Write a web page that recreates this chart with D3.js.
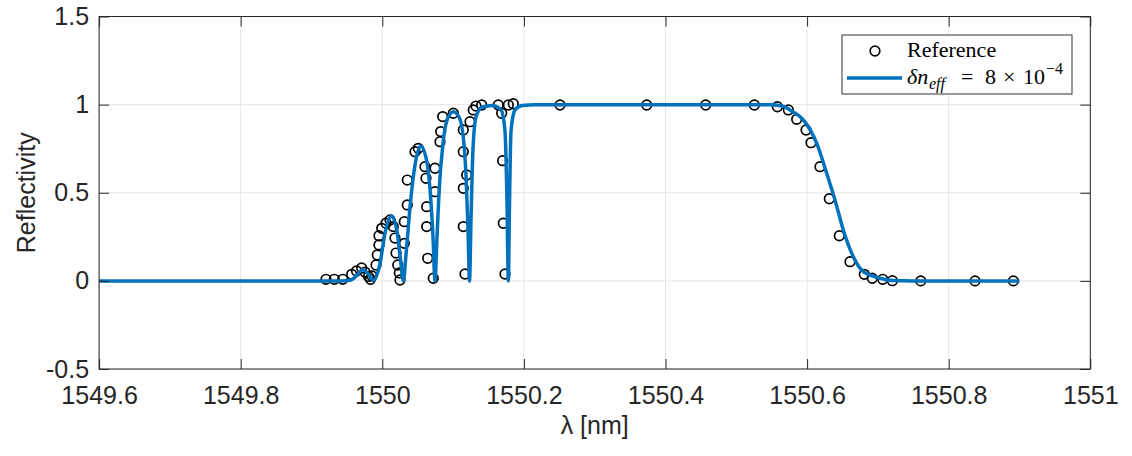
<!DOCTYPE html>
<html>
<head>
<meta charset="utf-8">
<script src="https://cdn.jsdelivr.net/npm/d3@7"></script>
<style>
  html, body { margin: 0; padding: 0; background: #fff; }
  svg { display: block; }
</style>
</head>
<body>
<svg id="chart" width="1132" height="456"></svg>
<script>
// ---------------- data ----------------
const refX = [
  1549.9205, 1549.9322, 1549.9441, 1549.9568, 1549.9636, 1549.9709, 1549.9756, 1549.9805, 1549.9833, 1549.9855,
  1549.9911, 1549.9929, 1549.9953, 1549.9953, 1549.9992, 1550.0052, 1550.0109, 1550.0155, 1550.0179, 1550.0194,
  1550.0218, 1550.0240, 1550.0250, 1550.0311, 1550.0311, 1550.0353, 1550.0353, 1550.0462, 1550.0508, 1550.0603,
  1550.0617, 1550.0627, 1550.0627, 1550.0641, 1550.0720, 1550.0744, 1550.0744, 1550.0815, 1550.0825, 1550.0853,
  1550.1003, 1550.1144, 1550.1144, 1550.1192, 1550.1144, 1550.1144, 1550.1168, 1550.1239, 1550.1285, 1550.1323,
  1550.1404, 1550.1638, 1550.1686, 1550.1700, 1550.1709, 1550.1733, 1550.1780, 1550.1850,
  1550.2510, 1550.3735, 1550.4568, 1550.5255,
  1550.5580, 1550.5735, 1550.5853, 1550.5985, 1550.6055, 1550.6182, 1550.6314, 1550.6455, 1550.6606, 1550.6808,
  1550.6920, 1550.7068, 1550.7204, 1550.7605, 1550.8372, 1550.8913
];
const refY = [
  0.009, 0.009, 0.009, 0.037, 0.056, 0.073, 0.050, 0.025, 0.009, 0.028,
  0.090, 0.147, 0.204, 0.256, 0.298, 0.327, 0.346, 0.308, 0.243, 0.158,
  0.090, 0.045, 0.005, 0.213, 0.336, 0.431, 0.572, 0.733, 0.752, 0.648,
  0.582, 0.421, 0.308, 0.128, 0.015, 0.506, 0.639, 0.790, 0.847, 0.932,
  0.951, 0.856, 0.733, 0.601, 0.525, 0.308, 0.039, 0.903, 0.970, 0.992,
  0.998, 0.998, 0.951, 0.682, 0.327, 0.039, 0.998, 1.005,
  0.998, 0.998, 0.998, 0.998,
  0.988, 0.970, 0.917, 0.856, 0.784, 0.648, 0.466, 0.256, 0.109, 0.037,
  0.015, 0.009, 0.001, 0.000, 0.000, 0.000
];

const fitX = [
  1549.6000, 1549.9400, 1549.9550, 1549.9650, 1549.9727, 1549.9800, 1549.9870, 1549.9968, 1550.0038, 1550.0133,
  1550.0208, 1550.0257, 1550.0297, 1550.0335, 1550.0392, 1550.0448, 1550.0542, 1550.0617, 1550.0674, 1550.0716,
  1550.0744, 1550.0773, 1550.0801, 1550.0857, 1550.0913, 1550.1003, 1550.1083, 1550.1140, 1550.1182, 1550.1210,
  1550.1232, 1550.1253, 1550.1281, 1550.1324, 1550.1408, 1550.1550, 1550.1677, 1550.1733, 1550.1761, 1550.1780,
  1550.1797, 1550.1818, 1550.1875, 1550.1974, 1550.2157, 1550.5500, 1550.5670, 1550.5758, 1550.5947, 1550.6136,
  1550.6277, 1550.6394, 1550.6511, 1550.6653, 1550.6794, 1550.7035, 1550.7218, 1550.7500, 1550.9000
];
const fitY = [
  0.000, 0.000, 0.004, 0.035, 0.065, 0.040, 0.003, 0.100, 0.270, 0.368,
  0.280, 0.120, 0.000, 0.150, 0.420, 0.620, 0.765, 0.700, 0.520, 0.250,
  0.000, 0.250, 0.500, 0.780, 0.910, 0.960, 0.930, 0.830, 0.600, 0.300,
  0.000, 0.350, 0.750, 0.930, 0.985, 0.995, 0.970, 0.850, 0.450, 0.000,
  0.450, 0.850, 0.970, 0.995, 1.000, 1.000, 0.990, 0.970, 0.913, 0.780,
  0.610, 0.459, 0.289, 0.137, 0.052, 0.015, 0.002, 0.000, 0.000
];

const xTicks = [1549.6, 1549.8, 1550.0, 1550.2, 1550.4, 1550.6, 1550.8, 1551.0];
const xTickLabels = ["1549.6", "1549.8", "1550", "1550.2", "1550.4", "1550.6", "1550.8", "1551"];
const yTicks = [-0.5, 0, 0.5, 1, 1.5];
const yTickLabels = ["-0.5", "0", "0.5", "1", "1.5"];

// ---------------- layout ----------------
const svg = d3.select("#chart");
const L = 99.1, R = 1090.3, T = 16.5, B = 369;
const x = d3.scaleLinear().domain([1549.6, 1551]).range([L, R]);
const y = d3.scaleLinear().domain([-0.5, 1.5]).range([B, T]);

const axisColor = "#262626";
const gridColor = "#e6e6e6";
const blue = "#0072BD";
const tickFont = "'Liberation Sans', Arial, Helvetica, sans-serif";
const serif = "'Liberation Serif', 'DejaVu Serif', serif";

// grid
const grid = svg.append("g");
grid.selectAll("line.gx").data(xTicks).join("line")
  .attr("x1", d => x(d)).attr("x2", d => x(d))
  .attr("y1", T).attr("y2", B)
  .attr("stroke", gridColor).attr("stroke-width", 1);
grid.selectAll("line.gy").data(yTicks).join("line")
  .attr("y1", d => y(d)).attr("y2", d => y(d))
  .attr("x1", L).attr("x2", R)
  .attr("stroke", gridColor).attr("stroke-width", 1);

// reference circles
svg.append("g").selectAll("circle").data(refX.map((v, i) => [v, refY[i]])).join("circle")
  .attr("cx", d => x(d[0])).attr("cy", d => y(d[1]))
  .attr("r", 4.8)
  .attr("fill", "none").attr("stroke", "#000").attr("stroke-width", 1.7);

// fit line
const line = d3.line().x(d => x(d[0])).y(d => y(d[1])).curve(d3.curveMonotoneX);
svg.append("path")
  .datum(fitX.map((v, i) => [v, fitY[i]]))
  .attr("d", line)
  .attr("fill", "none").attr("stroke", blue).attr("stroke-width", 3.5)
  .attr("stroke-linejoin", "round");

// axes
function styleAxis(g, showLabels) {
  g.select(".domain").remove();
  g.selectAll(".tick line").attr("stroke", axisColor).attr("stroke-width", 1);
  g.selectAll(".tick text").attr("fill", "#262626")
    .style("font-family", tickFont).style("font-size", "25px");
  if (!showLabels) g.selectAll(".tick text").remove();
}
const fmtX = (d, i) => xTickLabels[i];
const fmtY = (d, i) => yTickLabels[i];

svg.append("g").attr("transform", `translate(0,${B})`)
  .call(d3.axisBottom(x).tickValues(xTicks).tickFormat(fmtX).tickSize(-10).tickPadding(17))
  .call(g => styleAxis(g, true));
svg.append("g").attr("transform", `translate(0,${T})`)
  .call(d3.axisTop(x).tickValues(xTicks).tickFormat(fmtX).tickSize(-10))
  .call(g => styleAxis(g, false));
svg.append("g").attr("transform", `translate(${L},0)`)
  .call(d3.axisLeft(y).tickValues(yTicks).tickFormat(fmtY).tickSize(-10).tickPadding(10))
  .call(g => styleAxis(g, true));
svg.append("g").attr("transform", `translate(${R},0)`)
  .call(d3.axisRight(y).tickValues(yTicks).tickFormat(fmtY).tickSize(-10))
  .call(g => styleAxis(g, false));

// box
svg.append("rect")
  .attr("x", L).attr("y", T).attr("width", R - L).attr("height", B - T)
  .attr("fill", "none").attr("stroke", axisColor).attr("stroke-width", 1);

// axis titles
svg.append("text")
  .attr("x", (L + R) / 2).attr("y", 434)
  .attr("text-anchor", "middle")
  .style("font-family", tickFont).style("font-size", "25px").attr("fill", "#262626")
  .text("λ [nm]");
svg.append("text")
  .attr("transform", `translate(35,${(T + B) / 2}) rotate(-90)`)
  .attr("text-anchor", "middle")
  .style("font-family", tickFont).style("font-size", "25px").attr("fill", "#262626")
  .text("Reflectivity");

// legend
const lg = svg.append("g");
lg.append("rect")
  .attr("x", 842).attr("y", 35).attr("width", 230).attr("height", 59)
  .attr("fill", "#fff").attr("stroke", "#333").attr("stroke-width", 1);
lg.append("circle").attr("cx", 875).attr("cy", 51).attr("r", 4.8)
  .attr("fill", "none").attr("stroke", "#000").attr("stroke-width", 1.7);
lg.append("text").attr("x", 907).attr("y", 56.5)
  .style("font-family", serif).style("font-size", "22px")
  .attr("fill", "#000").text("Reference");
lg.append("line").attr("x1", 847).attr("x2", 902).attr("y1", 78).attr("y2", 78)
  .attr("stroke", blue).attr("stroke-width", 3.5);
const mt = lg.append("text").attr("y", 84)
  .style("font-family", serif).style("font-size", "22px")
  .attr("fill", "#000");
mt.append("tspan").attr("x", 907).style("font-style", "italic").text("δn");
mt.append("tspan").attr("x", 929).attr("y", 89).style("font-style", "italic").style("font-size", "16px").text("eff");
mt.append("tspan").attr("x", 961).attr("y", 84).text("=");
mt.append("tspan").attr("x", 985).attr("y", 84).text("8");
mt.append("tspan").attr("x", 1003).attr("y", 84).text("×");
mt.append("tspan").attr("x", 1023).attr("y", 84).text("10");
mt.append("tspan").attr("x", 1046).attr("y", 74).style("font-size", "16px").text("−4");
</script>
</body>
</html>
